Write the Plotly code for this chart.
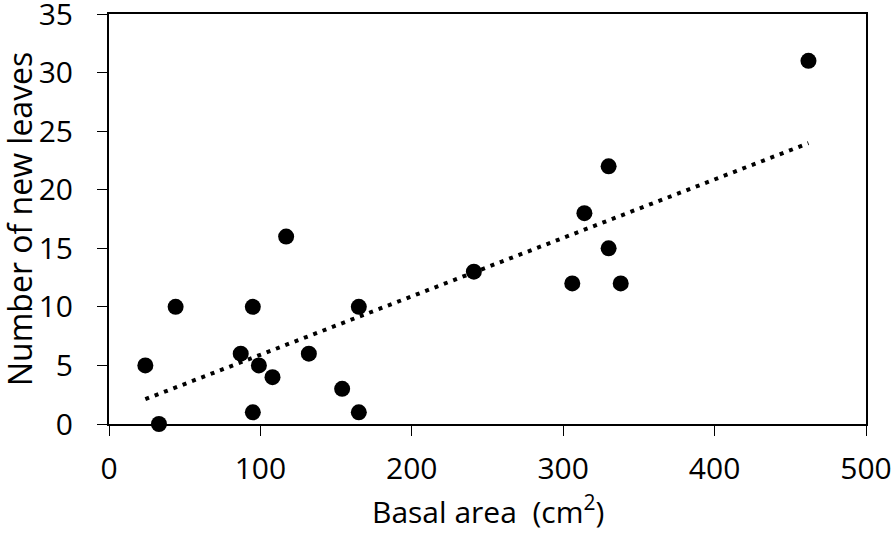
import numpy as np
import plotly.graph_objects as go

basal_area = [24, 33, 44, 87, 95, 95, 99, 108, 117, 132, 154, 165, 165, 241, 306, 314, 330, 330, 338, 462]
new_leaves = [5, 0, 10, 6, 10, 1, 5, 4, 16, 6, 3, 10, 1, 13, 12, 18, 22, 15, 12, 31]

x_ticks = [0, 100, 200, 300, 400, 500]
y_ticks = [0, 5, 10, 15, 20, 25, 30, 35]

x_title = "Basal area  (cm<sup>2</sup>)"
y_title = "Number of new leaves"

# linear trendline fitted to the data
slope, intercept = np.polyfit(basal_area, new_leaves, 1)
tx = [min(basal_area), max(basal_area)]
ty = [slope * v + intercept for v in tx]

font = "'Open Sans', sans-serif"

fig = go.Figure()
fig.add_trace(go.Scatter(x=tx, y=ty, mode="lines",
                         line=dict(color="black", width=4, dash="4px,6px"),
                         hoverinfo="skip", showlegend=False))
fig.add_trace(go.Scatter(x=basal_area, y=new_leaves, mode="markers",
                         marker=dict(color="black", size=16),
                         showlegend=False, cliponaxis=False))

fig.update_layout(
    width=894, height=536,
    margin=dict(l=109, r=28, t=14, b=112),
    plot_bgcolor="white", paper_bgcolor="white",
    font=dict(family=font, size=30, color="black"),
    annotations=[
        dict(text=x_title, xref="paper", yref="paper", x=0.5, y=0,
             xanchor="center", yanchor="middle", yshift=-86,
             showarrow=False, font=dict(size=30)),
        dict(text=y_title, xref="paper", yref="paper", x=0, y=0.5,
             xanchor="center", yanchor="middle", xshift=-90, textangle=-90,
             showarrow=False, font=dict(size=32)),
    ],
)
fig.update_xaxes(range=[0, 500], tickvals=x_ticks, showgrid=False, zeroline=False,
                 showline=True, linecolor="black", linewidth=2, mirror=True,
                 ticks="outside", ticklen=10, tickwidth=1, tickcolor="black",
                 ticklabelstandoff=7, automargin=False, ticklabeloverflow="allow")
fig.update_yaxes(range=[0, 35], tickvals=y_ticks, showgrid=False, zeroline=False,
                 showline=True, linecolor="black", linewidth=2, mirror=True,
                 ticks="outside", ticklen=10, tickwidth=1, tickcolor="black",
                 ticklabelstandoff=18, automargin=False, ticklabeloverflow="allow")

fig.write_html("out.html", config={"displayModeBar": False},
               post_script="document.body.style.margin='0';")
